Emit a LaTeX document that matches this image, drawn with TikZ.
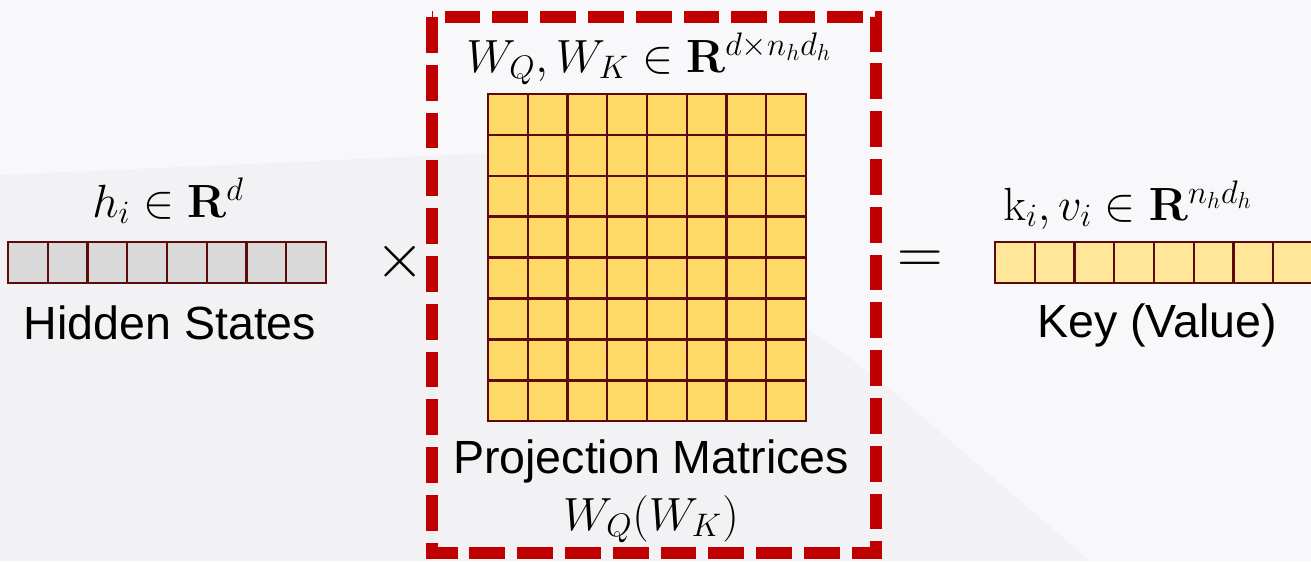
\RequirePackage{fix-cm}
\documentclass[tikz,border=0pt]{standalone}
\usepackage[no-math]{fontspec}
\setmainfont{Liberation Sans}

\definecolor{cellborder}{HTML}{5C0A0A}
\definecolor{hiddengray}{HTML}{D9D9D9}
\definecolor{projyellow}{HTML}{FFD966}
\definecolor{keyyellow}{HTML}{FFE699}
\definecolor{boxred}{HTML}{C00000}
\definecolor{bgpaper}{HTML}{F2F2F4}
\definecolor{bglight}{HTML}{F8F8FA}

\begin{document}
\begin{tikzpicture}[x=0.02cm, y=-0.02cm, >=latex,
    cell/.style={draw=cellborder, line width=1.4pt},
    lbl/.style={inner sep=0pt, anchor=base, font=\fontsize{26.5}{30}\selectfont},
    opsign/.style={inner sep=0pt, font=\fontsize{36}{40}\selectfont}]
    % 1. Nền và khung hình
    \fill[bgpaper] (0,0) rectangle (1311,561);
    \fill[bglight] (0,0) -- (1311,0) -- (1311,561) -- (1090,561) -- (880,380) -- (560,150) -- (0,175) -- cycle;
    \useasboundingbox (0,0) rectangle (1311,561);
    \clip (0,0) rectangle (1311,561);

    % 2. Vector trạng thái ẩn h_i (8 ô xám)
    \foreach \i in {0,...,7}
        \draw[cell, fill=hiddengray] ({8+39.75*\i},242) rectangle ++(39.75,41);
    \node[lbl] (hlabel) at (168,217) {$h_i \in \mathbf{R}^{d}$};
    \node[lbl] (hname) at (170,339) {Hidden States};

    % 3. Dấu nhân
    \node[opsign] (times) at (400,262) {$\times$};

    % 4. Ma trận chiếu 8x8 (màu vàng)
    \foreach \r in {0,...,7}
        \foreach \c in {0,...,7}
            \draw[cell, fill=projyellow] ({488+39.75*\c},{94+40.9*\r}) rectangle ++(39.75,40.9);
    \node[lbl] (wlabel) at (649,72) {$W_Q, W_K \in \mathbf{R}^{d\times n_h d_h}$};
    \node[lbl] (pname) at (651,473) {Projection Matrices};
    \node[lbl] (wname) at (651,530) {$W_Q(W_K)$};

    % Khung đỏ nét đứt quanh ma trận
    \draw[boxred, line width=6.8pt, dash pattern=on 20.4pt off 6.8pt]
        (432,17) rectangle (876,553);

    % 5. Dấu bằng
    \node[opsign] (equals) at (920,262) {$=$};

    % 6. Vector key/value (8 ô vàng nhạt, ô cuối bị cắt)
    \foreach \i in {0,...,7}
        \draw[cell, fill=keyyellow] ({995+39.75*\i},242) rectangle ++(39.75,41);
    \node[lbl] (klabel) at (1128,220) {$\mathrm{k}_i, v_i \in \mathbf{R}^{n_h d_h}$};
    \node[lbl] (kname) at (1157,337) {Key (Value)};
\end{tikzpicture}
\end{document}
